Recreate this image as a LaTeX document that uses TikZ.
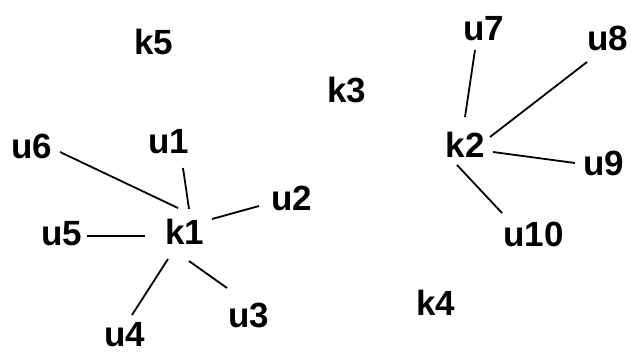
\documentclass[tikz,border=0pt]{standalone}
\usepackage{fontspec}
\setmainfont{Liberation Sans}
\begin{document}
\begin{tikzpicture}[x=1pt,y=-1pt,
  lbl/.style={anchor=base,inner sep=0pt,font=\fontsize{35}{40}\selectfont\bfseries},
  link/.style={draw=black,line width=1.8pt}]
\useasboundingbox[fill=white] (0,0) rectangle (631,354);
% cluster heads
\node[lbl] (k5) at (154,54) {k5};
\node[lbl] (k3) at (346.5,102) {k3};
\node[lbl] (k2) at (465,157) {k2};
\node[lbl] (k4) at (435.5,315) {k4};
\node[lbl] (k1) at (185,244) {k1};
% members of k1
\node[lbl] (u1) at (169,153) {u1};
\node[lbl] (u2) at (292,210) {u2};
\node[lbl] (u3) at (249,327) {u3};
\node[lbl] (u4) at (125,346) {u4};
\node[lbl] (u5) at (61.5,245) {u5};
\node[lbl] (u6) at (31.5,158) {u6};
% members of k2
\node[lbl] (u7) at (484,40) {u7};
\node[lbl] (u8) at (607.5,50) {u8};
\node[lbl] (u9) at (604,175) {u9};
\node[lbl] (u10) at (533.5,246) {u10};
% links of k1
\draw[link] ([shift={(-7,-36)}]k1.base) -- ([shift={(28.5,-6)}]u6.base);
\draw[link] ([shift={(4,-35)}]k1.base) -- ([shift={(14,15)}]u1.base);
\draw[link] ([shift={(27,-25)}]k1.base) -- ([shift={(-33,-4)}]u2.base);
\draw[link] ([shift={(-40,-8)}]k1.base) -- ([shift={(25.5,-9)}]u5.base);
\draw[link] ([shift={(-17,15)}]k1.base) -- ([shift={(7,-31)}]u4.base);
\draw[link] ([shift={(4,17)}]k1.base) -- ([shift={(-22,-39)}]u3.base);
% links of k2
\draw[link] ([shift={(0,-40)}]k2.base) -- ([shift={(-9,10)}]u7.base);
\draw[link] ([shift={(25,-20)}]k2.base) -- ([shift={(-20.5,12)}]u8.base);
\draw[link] ([shift={(28,-5)}]k2.base) -- ([shift={(-29,-12)}]u9.base);
\draw[link] ([shift={(-8,8)}]k2.base) -- ([shift={(-31.5,-33)}]u10.base);
\end{tikzpicture}
\end{document}
